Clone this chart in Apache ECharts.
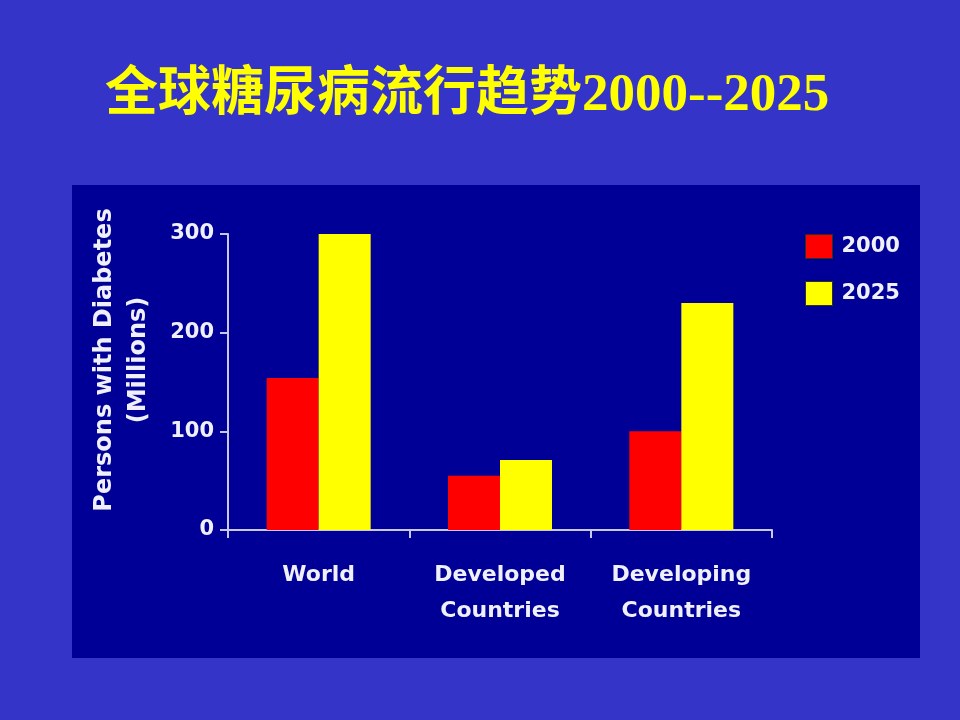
<!DOCTYPE html>
<html>
<head>
<meta charset="utf-8">
<script src="https://cdn.jsdelivr.net/npm/echarts@6/dist/echarts.min.js"></script>
<style>
  html, body { margin: 0; padding: 0; background: #3434c8; }
  #chart { width: 960px; height: 720px; }
</style>
</head>
<body>
<div id="chart"></div>
<script>
// data
const categories = ['World', 'Developed\nCountries', 'Developing\nCountries'];
const seriesNames = ['2000', '2025'];
const values2000 = [154, 55, 100];
const values2025 = [300, 71, 230];
const yTicks = [0, 100, 200, 300];

const textColor = '#f0f0fa';
const axisColor = '#c8c8ec';
const latin = '"DejaVu Sans", "Liberation Sans", sans-serif';

const chart = echarts.init(document.getElementById('chart'));

const option = {
  backgroundColor: '#3434c8',
  animation: false,
  title: {
    text: '全球糖尿病流行趋势2000--2025',
    left: 100,
    top: 65,
    textStyle: {
      color: '#ffff00',
      fontSize: 53,
      fontWeight: 'bold',
      fontFamily: '"Liberation Serif", "Noto Sans CJK SC", serif',
      textShadowColor: 'rgba(0,0,40,0.8)',
      textShadowOffsetX: 2,
      textShadowOffsetY: 2,
      textShadowBlur: 0
    }
  },
  graphic: [
    {
      type: 'rect',
      z: -10,
      silent: true,
      shape: { x: 72, y: 185, width: 848, height: 473 },
      style: { fill: '#000096' }
    },
    {
      type: 'text',
      x: 122,
      y: 360,
      rotation: Math.PI / 2,
      style: {
        text: 'Persons with Diabetes\n(Millions)',
        fill: textColor,
        font: 'bold 24px ' + latin,
        align: 'center',
        verticalAlign: 'middle',
        lineHeight: 34
      }
    }
  ],
  legend: {
    orient: 'vertical',
    left: 800,
    top: 229,
    itemWidth: 27,
    itemHeight: 24,
    itemGap: 22,
    icon: 'rect',
    data: seriesNames,
    itemStyle: { borderColor: '#30301a', borderWidth: 1 },
    textStyle: {
      color: textColor,
      fontSize: 21,
      fontWeight: 'bold',
      fontFamily: latin,
      padding: [0, 0, 0, 4]
    }
  },
  grid: {
    left: 228,
    right: 188,
    top: 234,
    bottom: 190
  },
  xAxis: {
    type: 'category',
    data: categories,
    axisLine: { lineStyle: { color: axisColor, width: 2 } },
    axisTick: { show: true, length: 8, lineStyle: { color: axisColor, width: 2 } },
    axisLabel: {
      color: textColor,
      fontSize: 22,
      fontWeight: 'bold',
      fontFamily: latin,
      lineHeight: 36,
      margin: 27,
      interval: 0
    }
  },
  yAxis: {
    type: 'value',
    min: 0,
    max: yTicks[yTicks.length - 1],
    interval: 100,
    splitLine: { show: false },
    axisLine: { show: true, lineStyle: { color: axisColor, width: 2 } },
    axisTick: { show: true, length: 8, lineStyle: { color: axisColor, width: 2 } },
    axisLabel: {
      color: textColor,
      fontSize: 21,
      fontWeight: 'bold',
      fontFamily: latin,
      margin: 14
    }
  },
  series: [
    {
      name: seriesNames[0],
      type: 'bar',
      data: values2000,
      barWidth: 52,
      barGap: '0%',
      itemStyle: { color: '#ff0000' }
    },
    {
      name: seriesNames[1],
      type: 'bar',
      data: values2025,
      barWidth: 52,
      itemStyle: { color: '#ffff00' }
    }
  ]
};

chart.setOption(option);
</script>
</body>
</html>
